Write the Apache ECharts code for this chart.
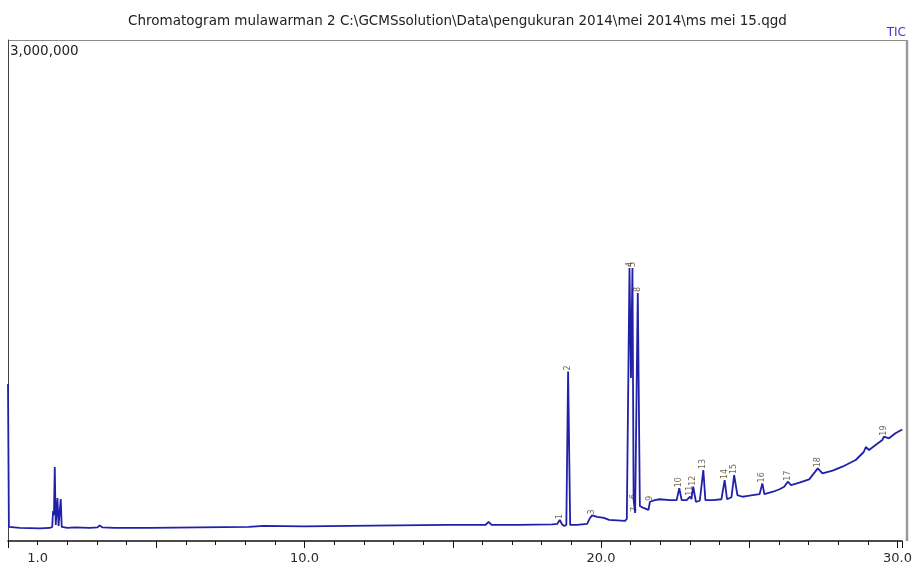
<!DOCTYPE html>
<html>
<head>
<meta charset="utf-8">
<script src="https://cdn.jsdelivr.net/npm/echarts@6/dist/echarts.min.js"></script>
<style>
html,body{margin:0;padding:0;background:#fff;}
#chart{width:915px;height:570px;}
</style>
</head>
<body>
<div id="chart"></div>
<script>
// retention time (min) and TIC intensity
var retTime = [0.00, 0.03, 0.40, 1.07, 1.41, 1.49, 1.52, 1.55, 1.577, 1.61, 1.64, 1.668, 1.705, 1.74, 1.779, 1.812,
  2.01, 2.25, 2.75, 3.02, 3.09, 3.19, 3.59, 4.77, 6.44, 8.12, 8.62, 10.0, 11.48, 13.15, 14.83, 16.10, 16.21, 16.31,
  17.18, 18.36, 18.52, 18.61, 18.69, 18.76, 18.83, 18.89, 18.96, 19.19, 19.53, 19.63, 19.70, 19.87, 20.10, 20.27,
  20.81, 20.87, 20.96, 21.01, 21.06, 21.10, 21.15, 21.24, 21.31, 21.43, 21.60, 21.65, 21.81, 21.98, 22.32, 22.55,
  22.64, 22.72, 22.89, 23.00, 23.05, 23.11, 23.20, 23.33, 23.45, 23.52, 23.78, 24.06, 24.17, 24.25, 24.40, 24.49,
  24.60, 24.77, 24.90, 25.12, 25.35, 25.44, 25.51, 25.80, 26.02, 26.18, 26.30, 26.41, 26.69, 27.02, 27.31, 27.47,
  27.81, 28.14, 28.59, 28.86, 28.93, 29.04, 29.26, 29.49, 29.54, 29.71, 29.93, 30.16];
var intensity = [940000, 84000, 78000, 75000, 78000, 84000, 180000, 156000, 443000, 96000, 92000, 257000, 90000, 88000, 251000, 84000,
  78000, 81000, 78000, 81000, 93000, 81000, 78000, 78000, 81000, 84000, 90000, 87000, 90000, 93000, 96000, 96000, 114000, 96000,
  96000, 99000, 102000, 126000, 99000, 90000, 96000, 1015000, 96000, 96000, 102000, 138000, 153000, 144000, 138000, 126000,
  120000, 132000, 1635000, 976000, 1635000, 246000, 168000, 1485000, 210000, 198000, 186000, 235000, 245000, 250000, 245000, 245000,
  316000, 245000, 245000, 265000, 251000, 325000, 235000, 241000, 425000, 245000, 245000, 250000, 365000, 250000, 262000, 395000,
  275000, 265000, 269000, 275000, 281000, 345000, 281000, 295000, 310000, 325000, 355000, 335000, 349000, 369000, 435000, 405000,
  421000, 445000, 485000, 533000, 563000, 545000, 575000, 605000, 625000, 615000, 645000, 668000];

// integrated peaks
var peakNo = ['1', '2', '3', '4', '5', '6', '7', '8', '9', '10', '11', '12', '13', '14', '15', '16', '17', '18', '19'];
var peakTime = [18.61, 18.89, 19.70, 20.96, 21.06, 21.10, 21.15, 21.24, 21.65, 22.64, 23.00, 23.11, 23.45, 24.17, 24.49, 25.44, 26.30, 27.31, 29.54];
var peakHeight = [126000, 1015000, 153000, 1635000, 1635000, 246000, 168000, 1485000, 235000, 316000, 265000, 325000, 425000, 365000, 395000, 345000, 355000, 435000, 625000];

var tickLabels = [1, 10, 20, 30];

var traceData = [];
for (var i = 0; i < retTime.length; i++) {
	traceData.push([retTime[i], intensity[i]]);
}
var peakData = [];
for (var j = 0; j < peakNo.length; j++) {
	peakData.push({name: peakNo[j], value: [peakTime[j], peakHeight[j]]});
}

var myChart = echarts.init(document.getElementById('chart'));
var option = {
	animation: false,
	backgroundColor: '#fff',
	title: {
		text: 'Chromatogram mulawarman 2 C:\\GCMSsolution\\Data\\pengukuran 2014\\mei 2014\\ms mei 15.qgd',
		left: 'center',
		top: 9,
		textStyle: {fontFamily: 'DejaVu Sans', fontSize: 13.5, fontWeight: 'normal', color: '#222'}
	},
	grid: {left: 8, right: 8, top: 40, bottom: 29},
	xAxis: [{
		type: 'value', min: 0, max: 30.15, interval: 1,
		axisLine: {lineStyle: {color: '#111', width: 1.5}},
		axisTick: {length: 4, lineStyle: {color: '#111'}},
		splitLine: {show: false},
		axisLabel: {
			margin: 11, fontFamily: 'DejaVu Sans', fontSize: 13, color: '#2a2a2a',
			formatter: function (v) {
				return tickLabels.indexOf(Math.round(v * 100) / 100) >= 0 ? v.toFixed(1) : '';
			}
		}
	}, {
		type: 'value', position: 'bottom', min: 0, max: 30.15, interval: 5,
		axisLine: {show: false},
		axisTick: {length: 7, lineStyle: {color: '#111'}},
		axisLabel: {show: false},
		splitLine: {show: false}
	}],
	yAxis: {
		type: 'value', min: 0, max: 3000000,
		axisLine: {show: true, lineStyle: {color: '#444'}},
		axisTick: {show: false},
		axisLabel: {show: false},
		splitLine: {show: false}
	},
	graphic: [
		{type: 'text', left: 10, top: 44, style: {text: '3,000,000', fontFamily: 'DejaVu Sans', fontSize: 13.5, fill: '#222'}},
		{type: 'text', right: 9, top: 27, style: {text: 'TIC', fontFamily: 'DejaVu Sans', fontSize: 12, fill: '#3a3acc'}},
		{type: 'line', shape: {x1: 8, y1: 40.5, x2: 908, y2: 40.5}, style: {stroke: '#8c8c8c', lineWidth: 1}},
		{type: 'line', shape: {x1: 907, y1: 40, x2: 907, y2: 541}, style: {stroke: '#9a9a9a', lineWidth: 2.5}}
	],
	series: [{
		name: 'TIC', type: 'line', data: traceData, showSymbol: false,
		lineStyle: {color: '#2020aa', width: 1.8}
	}, {
		name: 'peaks', type: 'scatter', data: peakData, symbolSize: 0,
		label: {
			show: true, formatter: '{b}', position: 'top', distance: 1, rotate: 90,
			align: 'left', verticalAlign: 'middle',
			fontFamily: 'DejaVu Sans', fontSize: 8, color: '#4a3f1e'
		}
	}]
};
myChart.setOption(option, true);
</script>
</body>
</html>
